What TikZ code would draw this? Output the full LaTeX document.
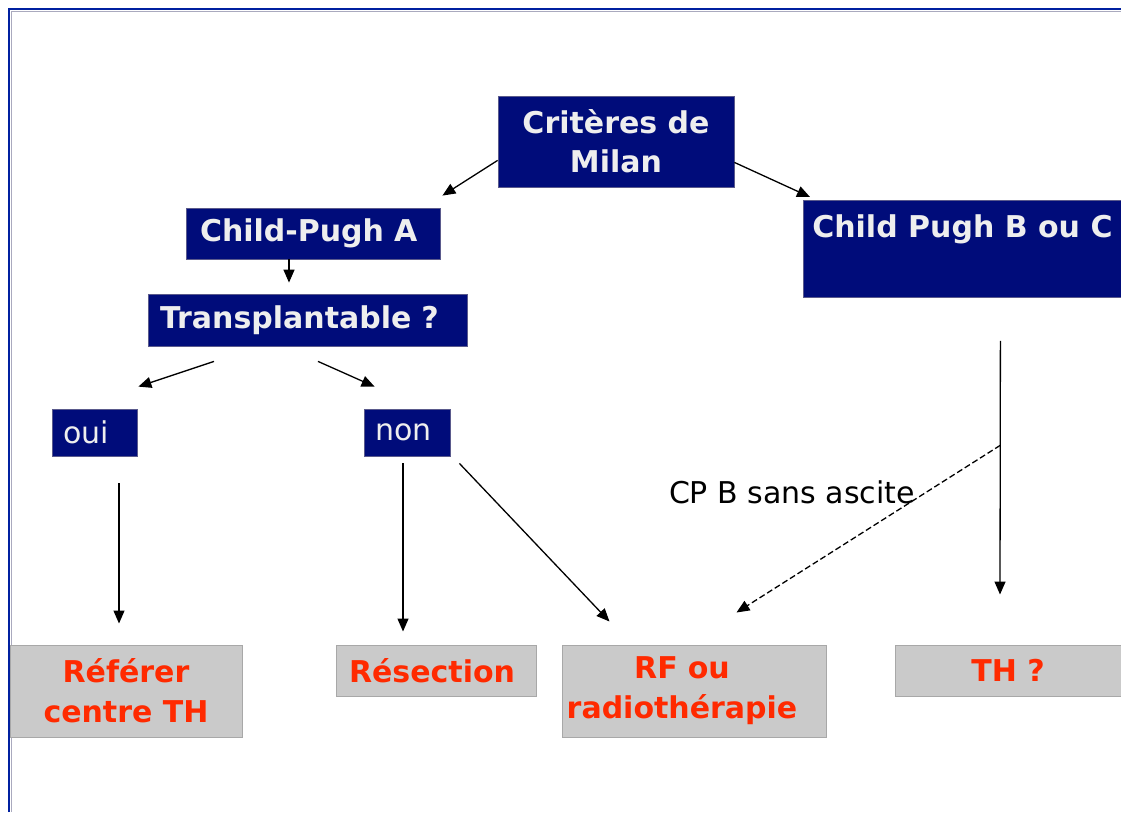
\documentclass[tikz,border=0pt]{standalone}
\usepackage{fontspec}
\setmainfont{DejaVu Sans}
\usetikzlibrary{arrows.meta,calc}
\definecolor{navyfill}{RGB}{0,12,122}
\definecolor{navyedge}{RGB}{90,90,140}
\definecolor{boxwhite}{RGB}{238,238,238}
\definecolor{grayfill}{RGB}{202,202,202}
\definecolor{grayedge}{RGB}{168,168,168}
\definecolor{redtext}{RGB}{255,42,0}
\definecolor{frameblue}{RGB}{0,32,160}
\definecolor{framegray}{RGB}{170,170,190}
\tikzset{
  navybox/.style={fill=navyfill, draw=navyedge, line width=0.8pt, text=boxwhite,
    font=\bfseries\fontsize{30}{39}\selectfont, inner sep=0pt, align=center},
  navysmall/.style={fill=navyfill, draw=navyedge, line width=0.8pt, text=boxwhite,
    font=\fontsize{30}{39}\selectfont, inner sep=0pt},
  graybox/.style={fill=grayfill, draw=grayedge, line width=1pt, text=redtext,
    font=\bfseries\fontsize{30}{40}\selectfont, inner sep=0pt, align=center},
  conn/.style={line width=1.3pt, -{Triangle[length=13pt,width=11pt]}},
  dashconn/.style={conn, dash pattern=on 6pt off 3pt},
}
\begin{document}
\begin{tikzpicture}[x=1pt,y=1pt]
\useasboundingbox (0,0) rectangle (1121,-812);
\fill[white] (0,0) rectangle (1121,-812);
% frame
\draw[framegray, line width=1pt] (11,-812) -- (11,-11) -- (1121,-11);
\draw[frameblue, line width=2.2pt] (9,-812) -- (9,-9) -- (1121,-9);

% nodes
\node[navybox, minimum width=236pt, minimum height=91pt] (milan) at (616,-141.5) {Critères de\\Milan};
\node[navybox, minimum width=254pt, minimum height=51pt, text width=226pt, inner xsep=14pt, align=left] (cpa) at (313,-233.5) {Child-Pugh A};
\node[navybox, anchor=north west, minimum width=318pt, minimum height=97pt, text height=37pt, text depth=60pt] (cpbc) at (803,-200) {Child Pugh B ou C};
\node[navybox, minimum width=319pt, minimum height=52pt, text width=295pt, inner xsep=12pt, align=left] (trans) at (307.5,-320) {Transplantable ?};
\node[navysmall, minimum width=85pt, minimum height=47pt, text width=63pt, inner xsep=11pt, align=left] (oui) at (94.5,-432.5) {oui};
\node[navysmall, minimum width=86pt, minimum height=47pt, text width=64pt, inner xsep=11pt, align=left] (non) at (407,-432.5) {non};

\node[graybox, minimum width=232pt, minimum height=92pt] (ref) at (126,-691) {Référer\\centre TH};
\node[graybox, minimum width=200pt, minimum height=51pt, text width=174pt, inner xsep=13pt, align=left] (resec) at (436,-670.5) {Résection};
\node[graybox, minimum width=264pt, minimum height=92pt, text width=264pt] (rf) at (694,-691) {\hspace*{-24pt}RF ou\\\hspace*{-24pt}radiothérapie};
\node[graybox, minimum width=226pt, minimum height=51pt] (th) at (1008,-670.5) {TH ?};

% connectors
\draw[conn] ($(milan.south west)+(0,27)$) -- ($(cpa.north east)+(2,12)$);
\draw[conn] ($(milan.south east)+(0,25)$) -- ($(cpbc.north west)+(7,3)$);
\draw[conn] ($(cpa.south)+(-24,0)$) -- ($(trans.north)+(-18.5,11)$);
\draw[conn] ($(trans.south)+(-93.5,-15)$) -- ($(oui.north east)+(1,22)$);
\draw[conn] ($(trans.south)+(10.5,-15)$) -- ($(non.north west)+(11,22)$);
\draw[conn] ($(oui.south)+(24.5,-27)$) -- ($(ref.north)+(-7,21)$);
\draw[conn] ($(non.south)+(-4,-7)$) -- ($(resec.north)+(-33,13)$);
\draw[conn] ($(non.south east)+(9,-7)$) -- ($(rf.north west)+(48,23)$);
\coordinate (cpstart) at ($(cpbc.south)+(38,-43)$);
\coordinate (cpend) at ($(th.north)+(-8,50)$);
\draw[conn] (cpstart) -- (cpend);
\coordinate (branch) at ($(cpstart)!0.412!(cpend)$);
\draw[dashconn] (branch) -- ($(rf.north east)+(-90,32)$);
\node[font=\fontsize{30}{34}\selectfont, inner sep=0pt] (cplabel) at (792,-492) {CP B sans ascite};
\end{tikzpicture}
\end{document}
